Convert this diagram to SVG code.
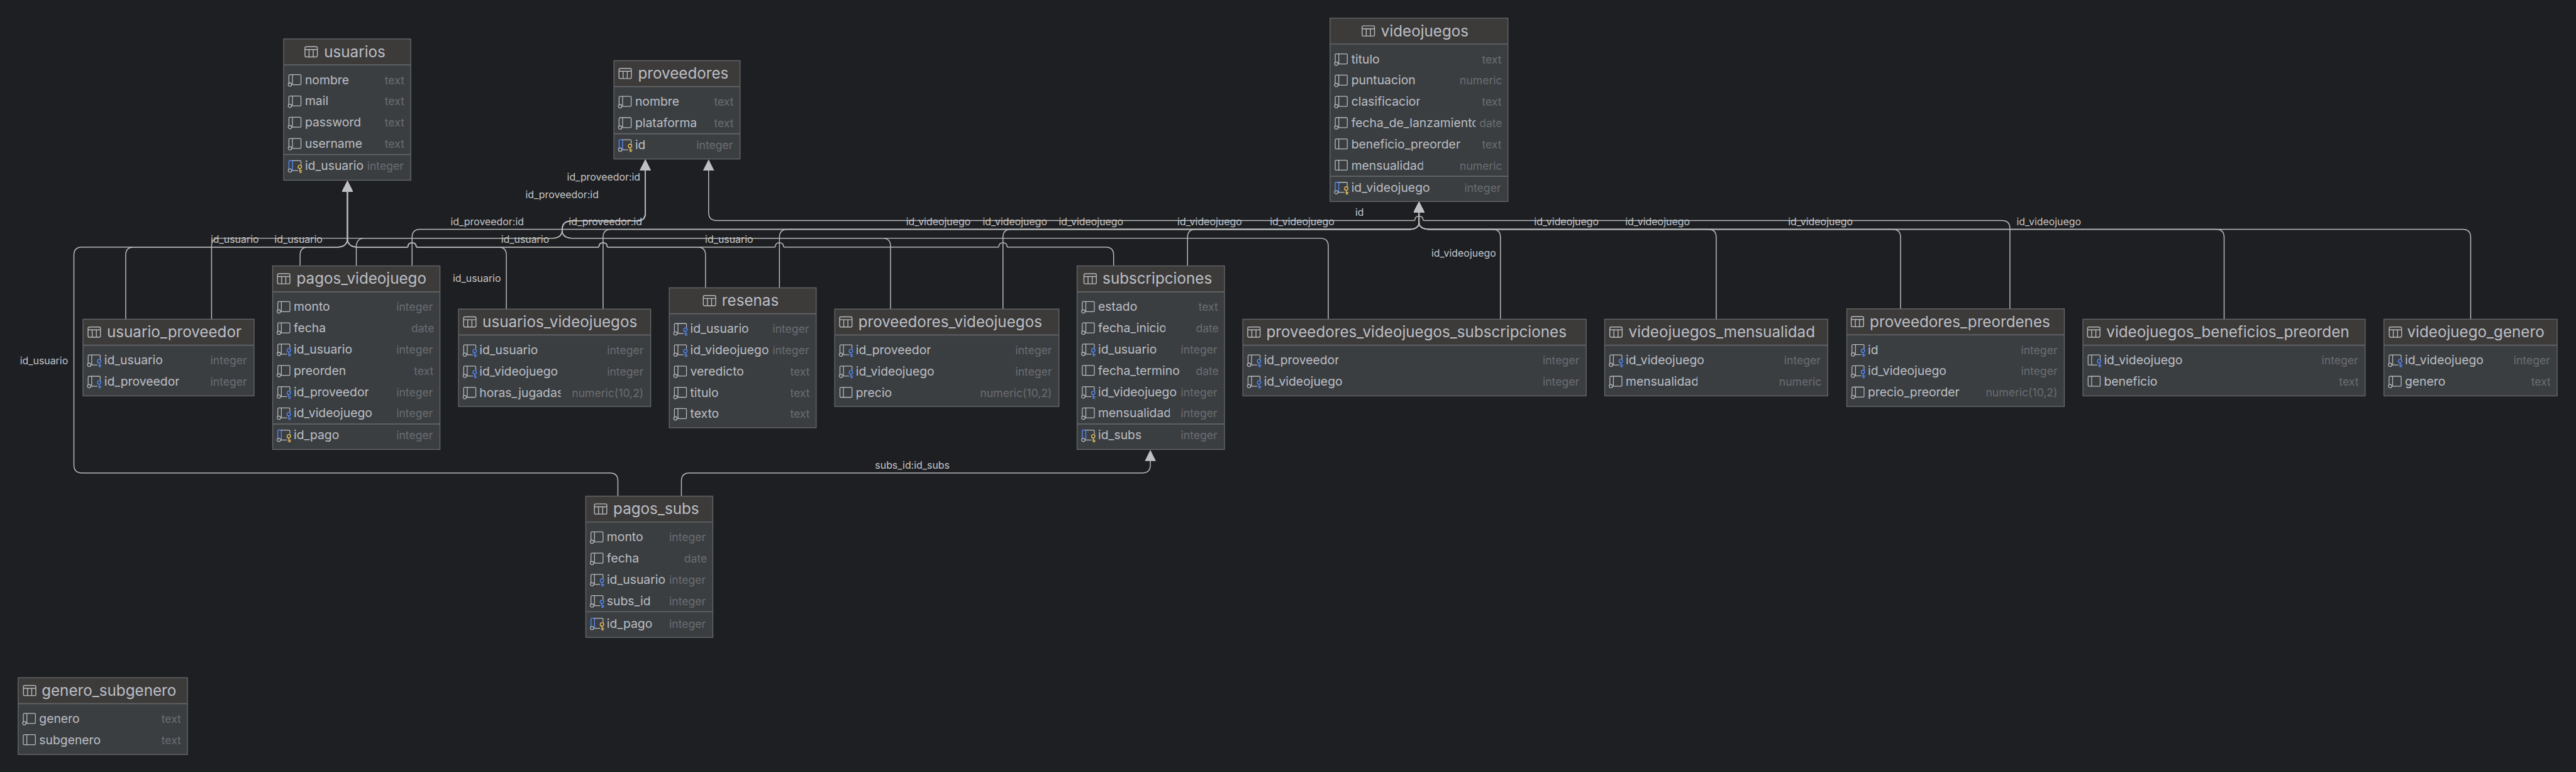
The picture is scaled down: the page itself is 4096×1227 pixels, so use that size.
<svg xmlns="http://www.w3.org/2000/svg" width="4096" height="1227" viewBox="0 0 4096 1227">
<style>
text{font-family:Inter,"Liberation Sans",sans-serif}
.b{fill:#3b3e41}
.h{fill:#3c3b3a}
.e{fill:none;stroke:#636568;stroke-width:2}
.d{stroke:#636568;stroke-width:2.4}
.t{font-size:34.4px;fill:#bcbec4}
.n{font-size:27.5px;fill:#bcbec4}
.y{font-size:25px;fill:#6a6d72;text-anchor:end}
.l{font-size:22.6px;fill:#c4c6ca}
.i{fill:none;stroke:#b8babe;stroke-width:1.8;stroke-linecap:round;stroke-linejoin:round}
.kb{fill:none;stroke:#548af7;stroke-width:1.9;stroke-linecap:round;stroke-linejoin:round}
.ky{fill:none;stroke:#f2c55c;stroke-width:1.9;stroke-linecap:round;stroke-linejoin:round}
.ic{fill:none;stroke:#b8babe;stroke-width:2;stroke-linejoin:round}
#conn path{fill:none;stroke:#b8babb;stroke-width:2.1;marker-end:none}
#conn path.a{marker-end:url(#ah)}
.v{clip-path:url(#cv)}
.p{clip-path:url(#cp)}
.f{clip-path:url(#cf)}
.o{clip-path:url(#co)}
.x{clip-path:url(#cx)}
.m{clip-path:url(#cm)}
.s{clip-path:url(#cs)}
.z{clip-path:url(#cz)}
.j{clip-path:url(#cj)}
.u{clip-path:url(#cu)}
</style>
<defs>
<marker id="ah" markerUnits="userSpaceOnUse" markerWidth="25" markerHeight="25" viewBox="0 0 25 25" refX="0" refY="12.5" orient="auto"><path d="M0 0L25 12.5L0 25Z" fill="#bfc0c1"/></marker>
<clipPath id="cv"><rect x="-2" y="-34" width="180" height="48"/></clipPath>
<clipPath id="cp"><rect x="-2" y="-34" width="171" height="48"/></clipPath>
<clipPath id="cf"><rect x="-2" y="-34" width="140" height="48"/></clipPath>
<clipPath id="co"><rect x="-2" y="-34" width="154" height="48"/></clipPath>
<clipPath id="cx"><rect x="-2" y="-34" width="186.500" height="48"/></clipPath>
<clipPath id="cm"><rect x="-2" y="-34" width="164" height="48"/></clipPath>
<clipPath id="cs"><rect x="-2" y="-34" width="157" height="48"/></clipPath>
<clipPath id="cz"><rect x="-2" y="-34" width="283" height="48"/></clipPath>
<clipPath id="cj"><rect x="-2" y="-34" width="186" height="48"/></clipPath>
<clipPath id="cu"><rect x="-2" y="-34" width="135" height="48"/></clipPath>
<g id="tb"><rect class="ic" x="0" y="-11.500" width="28" height="23" rx="3"/><path class="ic" d="M0-5H28M9.300-5V11.500M18.700-5V11.500"/></g>
<g id="c0"><path class="i" d="M1.700 6V-10.300a2 2 0 0 1 2-2H27a2 2 0 0 1 2 2V8.300a2 2 0 0 1-2 2H9.700M9.700-12.300V10.300"/><circle class="i" cx="4" cy="10" r="3.800"/></g>
<g id="c1"><path class="i" d="M3.700-12.300H27a2 2 0 0 1 2 2V8.300a2 2 0 0 1-2 2H3.700a2 2 0 0 1-2-2V-10.300a2 2 0 0 1 2-2ZM9.700-12.300V10.300"/></g>
<g id="f0"><path class="i" d="M1.700 6V-10.300a2 2 0 0 1 2-2H27a2 2 0 0 1 2 2V-4M22 10.300H9.700M9.700-12.300V10.300"/><circle class="i" cx="4" cy="10" r="3.800"/><circle class="kb" cx="26.500" cy="1.700" r="4"/><path class="kb" d="M26.500 5.700V14M26.500 10.500H31M26.500 14H30"/></g>
<g id="f1"><path class="i" d="M22 10.300H3.700a2 2 0 0 1-2-2V-10.300a2 2 0 0 1 2-2H27a2 2 0 0 1 2 2V-4M9.700-12.300V10.300"/><circle class="kb" cx="26.500" cy="1.700" r="4"/><path class="kb" d="M26.500 5.700V14M26.500 10.500H31M26.500 14H30"/></g>
<g id="pk"><path class="kb" d="M1.700 6V-10.300a2 2 0 0 1 2-2H9.700M9.700-12.300V10.300"/><path class="i" d="M9.700-12.300H27a2 2 0 0 1 2 2V-4M22 10.300H9.700"/><circle class="i" cx="4" cy="10" r="3.800"/><circle class="ky" cx="26.500" cy="1.700" r="4"/><path class="ky" d="M26.500 5.700V14M26.500 10.500H31M26.500 14H30"/></g>
</defs>
<rect width="4096" height="1227" fill="#1e1f22"/>
<g transform="scale(.70378)">
<g id="conn">
<path class="a" d="M1396 1120V1086Q1396 1068 1378 1068H185Q167 1068 167 1050V576Q167 558 185 558H765C776 557 785 552 785 538V433"/>
<path class="a" d="M284 721V576Q284 558 302 558H765C776 557 785 552 785 538V433"/>
<path class="a" d="M678 600V576Q678 558 696 558H765C776 557 785 552 785 538V433"/>
<path class="a" d="M1144 698V576Q1144 558 1126 558H942q-2 0-2-3A9 7 0 0 0 922 555q0 3-2 3H805C794 557 785 552 785 538V433"/>
<path class="a" d="M1594 650V576Q1594 558 1576 558H1373.500q-2 0-2-3A9 7 0 0 0 1353.500 555q0 3-2 3H942q-2 0-2-3A9 7 0 0 0 922 555q0 3-2 3H805C794 557 785 552 785 538V433"/>
<path class="a" d="M2516 600V576Q2516 558 2498 558H2277q-2 0-2-3A9 7 0 0 0 2257 555q0 3-2 3H1772q-2 0-2-3A9 7 0 0 0 1752 555q0 3-2 3H1373.500q-2 0-2-3A9 7 0 0 0 1353.500 555q0 3-2 3H942q-2 0-2-3A9 7 0 0 0 922 555q0 3-2 3H805C794 557 785 552 785 538V433"/>
<path class="a" d="M805 600V557Q805 538 824 538H1250C1262 537 1270 532 1270 520C1270 508 1274 499 1290 499H1440Q1458 499 1458 481V385"/>
<path class="a" d="M478 721V556Q478 538 496 538H1250C1262 537 1270 532 1270 520C1270 508 1274 499 1290 499H1440Q1458 499 1458 481V385"/>
<path class="a" d="M2012 698V556Q2012 538 1994 538H1291C1279 537 1270 532 1270 520C1270 508 1274 499 1290 499H1440Q1458 499 1458 481V385"/>
<path class="a" d="M3001 721V556Q3001 538 2983 538H1291C1279 537 1270 532 1270 520C1270 508 1274 499 1290 499H1440Q1458 499 1458 481V385"/>
<path class="a" d="M931 600V536Q931 518 949 518H3187C3198 517 3206 512 3206 502V480"/>
<path class="a" d="M1362.500 698V536Q1362.500 518 1380.500 518H3187C3198 517 3206 512 3206 502V480"/>
<path class="a" d="M1761 650V536Q1761 518 1779 518H3187C3198 517 3206 512 3206 502V480"/>
<path class="a" d="M2266 698V536Q2266 518 2284 518H3187C3198 517 3206 512 3206 502V480"/>
<path class="a" d="M2683 600V536Q2683 518 2701 518H3187C3198 517 3206 512 3206 502V480"/>
<path class="a" d="M3390 721V536Q3390 518 3372 518H3227C3214 517 3206 512 3206 502V480"/>
<path class="a" d="M3877.500 721V536Q3877.500 518 3859.500 518H3227C3214 517 3206 512 3206 502V480"/>
<path class="a" d="M4294 698V536Q4294 518 4276 518H3227C3214 517 3206 512 3206 502V480"/>
<path class="a" d="M5025 721V536Q5025 518 5007 518H3227C3214 517 3206 512 3206 502V480"/>
<path class="a" d="M5582 721V536Q5582 518 5564 518H3227C3214 517 3206 512 3206 502V480"/>
<path class="a" d="M4541 698V516Q4541 498 4523 498H3217q-2 0-2-3A9 7 0 0 0 3197 495q0 3-2 3H1619Q1601 498 1601 480V385"/>
<path class="a" d="M1539.500 1120V1086Q1539.500 1068 1557.500 1068H2581Q2599 1068 2599 1050V1041"/>
<text class="l" x="476" y="548">id_usuario</text>
<text class="l" x="620" y="548">id_usuario</text>
<text class="l" x="1132" y="548">id_usuario</text>
<text class="l" x="1593" y="548">id_usuario</text>
<text class="l" x="1023" y="637">id_usuario</text>
<text class="l" x="45" y="823">id_usuario</text>
<text class="l" x="1281" y="408">id_proveedor:id</text>
<text class="l" x="1187" y="448">id_proveedor:id</text>
<text class="l" x="1018" y="508">id_proveedor:id</text>
<text class="l" x="1285" y="508">id_proveedor:id</text>
<text class="l" x="2047" y="508">id_videojuego</text>
<text class="l" x="2220" y="508">id_videojuego</text>
<text class="l" x="2392" y="508">id_videojuego</text>
<text class="l" x="2660" y="508">id_videojuego</text>
<text class="l" x="2869" y="508">id_videojuego</text>
<text class="l" x="3062" y="488">id</text>
<text class="l" x="3234" y="580">id_videojuego</text>
<text class="l" x="3466" y="508">id_videojuego</text>
<text class="l" x="3672" y="508">id_videojuego</text>
<text class="l" x="4040" y="508">id_videojuego</text>
<text class="l" x="4556" y="508">id_videojuego</text>
<text class="l" x="1977" y="1058">subs_id:id_subs</text>
</g>
<g id="usuarios" transform="translate(641 88)">
<rect class="b" width="287" height="319"/><rect class="h" width="287" height="58"/><path class="d" d="M0 58.500H287M0 261H287"/><rect class="e" width="287" height="319"/>
<use href="#tb" x="48" y="29"/><text class="t" x="91" y="41">usuarios</text>
<use href="#c0" x="10" y="93"/><text class="n" x="48" y="102">nombre</text><text class="y" x="272.500" y="102">text</text>
<use href="#c0" x="10" y="141"/><text class="n" x="48" y="150">mail</text><text class="y" x="272.500" y="150">text</text>
<use href="#c0" x="10" y="189"/><text class="n" x="48" y="198">password</text><text class="y" x="272.500" y="198">text</text>
<use href="#c0" x="10" y="237"/><text class="n" x="48" y="246">username</text><text class="y" x="272.500" y="246">text</text>
<use href="#pk" x="10" y="287"/><text class="n u" transform="translate(48 296)">id_usuario</text><text class="y" x="271" y="296">integer</text>
</g>
<g id="proveedores" transform="translate(1387 137)">
<rect class="b" width="285" height="222"/><rect class="h" width="285" height="58"/><path class="d" d="M0 58.500H285M0 165H285"/><rect class="e" width="285" height="222"/>
<use href="#tb" x="11.500" y="29"/><text class="t" x="54.500" y="41">proveedores</text>
<use href="#c0" x="10" y="93"/><text class="n" x="48" y="102">nombre</text><text class="y" x="270.500" y="102">text</text>
<use href="#c0" x="10" y="141"/><text class="n f" transform="translate(48 150)">plataforma</text><text class="y" x="270.500" y="150">text</text>
<use href="#pk" x="10" y="191"/><text class="n" x="48" y="200">id</text><text class="y" x="269" y="200">integer</text>
</g>
<g id="videojuegos" transform="translate(3005 41)">
<rect class="b" width="402" height="414"/><rect class="h" width="402" height="58"/><path class="d" d="M0 58.500H402M0 357H402"/><rect class="e" width="402" height="414"/>
<use href="#tb" x="72.500" y="29"/><text class="t" x="115" y="41">videojuegos</text>
<use href="#c0" x="10" y="93"/><text class="n" x="48" y="102">titulo</text><text class="y" x="387.500" y="102">text</text>
<use href="#c0" x="10" y="141"/><text class="n" x="48" y="150">puntuacion</text><text class="y" x="389" y="150">numeric</text>
<use href="#c0" x="10" y="189"/><text class="n s" transform="translate(48 198)">clasificacion</text><text class="y" x="387.500" y="198">text</text>
<use href="#c0" x="10" y="237"/><text class="n z" transform="translate(48 246)">fecha_de_lanzamiento</text><text class="y" x="389" y="246">date</text>
<use href="#c1" x="10" y="285"/><text class="n" x="48" y="294">beneficio_preorder</text><text class="y" x="387.500" y="294">text</text>
<use href="#c1" x="10" y="333"/><text class="n m" transform="translate(48 342)">mensualidad</text><text class="y" x="389" y="342">numeric</text>
<use href="#pk" x="10" y="383"/><text class="n v" transform="translate(48 392)">id_videojuego</text><text class="y" x="386" y="392">integer</text>
</g>
<g id="usuario_proveedor" transform="translate(187.500 721)">
<rect class="b" width="386.500" height="173"/><rect class="h" width="386.500" height="58"/><path class="d" d="M0 58.500H386.500"/><rect class="e" width="386.500" height="173"/>
<use href="#tb" x="11.500" y="29"/><text class="t" x="54" y="41">usuario_proveedor</text>
<use href="#f0" x="10" y="93"/><text class="n u" transform="translate(48 102)">id_usuario</text><text class="y" x="370.500" y="102">integer</text>
<use href="#f0" x="10" y="141"/><text class="n p" transform="translate(48 150)">id_proveedor</text><text class="y" x="370.500" y="150">integer</text>
</g>
<g id="pagos_videojuego" transform="translate(616 600.500)">
<rect class="b" width="378" height="414.500"/><rect class="h" width="378" height="58"/><path class="d" d="M0 58.500H378M0 357H378"/><rect class="e" width="378" height="414.500"/>
<use href="#tb" x="11" y="29"/><text class="t" x="54" y="41">pagos_videojuego</text>
<use href="#c0" x="10" y="93"/><text class="n" x="47.500" y="102">monto</text><text class="y" x="362" y="102">integer</text>
<use href="#c0" x="10" y="141"/><text class="n" x="47.500" y="150">fecha</text><text class="y" x="365" y="150">date</text>
<use href="#f0" x="10" y="189"/><text class="n u" transform="translate(47.500 198)">id_usuario</text><text class="y" x="362" y="198">integer</text>
<use href="#c0" x="10" y="237"/><text class="n" x="47.500" y="246">preorden</text><text class="y" x="363.500" y="246">text</text>
<use href="#f0" x="10" y="285"/><text class="n p" transform="translate(47.500 294)">id_proveedor</text><text class="y" x="362" y="294">integer</text>
<use href="#f0" x="10" y="333"/><text class="n v" transform="translate(47.500 342)">id_videojuego</text><text class="y" x="362" y="342">integer</text>
<use href="#pk" x="10" y="383"/><text class="n" x="47.500" y="392">id_pago</text><text class="y" x="362" y="392">integer</text>
</g>
<g id="usuarios_videojuegos" transform="translate(1036 698)">
<rect class="b" width="434" height="220"/><rect class="h" width="434" height="58"/><path class="d" d="M0 58.500H434"/><rect class="e" width="434" height="220"/>
<use href="#tb" x="11.500" y="29"/><text class="t" x="54" y="41">usuarios_videojuegos</text>
<use href="#f0" x="10" y="93"/><text class="n u" transform="translate(47 102)">id_usuario</text><text class="y" x="418" y="102">integer</text>
<use href="#f0" x="10" y="141"/><text class="n v" transform="translate(47 150)">id_videojuego</text><text class="y" x="418" y="150">integer</text>
<use href="#c0" x="10" y="189"/><text class="n j" transform="translate(47 198)">horas_jugadas</text><text class="y" x="418" y="198">numeric(10,2)</text>
</g>
<g id="resenas" transform="translate(1512 650)">
<rect class="b" width="332" height="316"/><rect class="h" width="332" height="58"/><path class="d" d="M0 58.500H332"/><rect class="e" width="332" height="316"/>
<use href="#tb" x="77" y="29"/><text class="t" x="119" y="41">resenas</text>
<use href="#f0" x="10" y="93"/><text class="n u" transform="translate(47.500 102)">id_usuario</text><text class="y" x="316" y="102">integer</text>
<use href="#f0" x="10" y="141"/><text class="n v" transform="translate(47.500 150)">id_videojuego</text><text class="y" x="316" y="150">integer</text>
<use href="#c0" x="10" y="189"/><text class="n" x="47.500" y="198">veredicto</text><text class="y" x="317.500" y="198">text</text>
<use href="#c0" x="10" y="237"/><text class="n" x="47.500" y="246">titulo</text><text class="y" x="317.500" y="246">text</text>
<use href="#c0" x="10" y="285"/><text class="n" x="47.500" y="294">texto</text><text class="y" x="317.500" y="294">text</text>
</g>
<g id="proveedores_videojuegos" transform="translate(1886 698)">
<rect class="b" width="506.500" height="220"/><rect class="h" width="506.500" height="58"/><path class="d" d="M0 58.500H506.500"/><rect class="e" width="506.500" height="220"/>
<use href="#tb" x="11" y="29"/><text class="t" x="53" y="41">proveedores_videojuegos</text>
<use href="#f0" x="10" y="93"/><text class="n p" transform="translate(47.500 102)">id_proveedor</text><text class="y" x="490.500" y="102">integer</text>
<use href="#f0" x="10" y="141"/><text class="n v" transform="translate(47.500 150)">id_videojuego</text><text class="y" x="490.500" y="150">integer</text>
<use href="#c1" x="10" y="189"/><text class="n" x="47.500" y="198">precio</text><text class="y" x="490.500" y="198">numeric(10,2)</text>
</g>
<g id="subscripciones" transform="translate(2433.500 600.500)">
<rect class="b" width="333" height="414.500"/><rect class="h" width="333" height="58"/><path class="d" d="M0 58.500H333M0 357H333"/><rect class="e" width="333" height="414.500"/>
<use href="#tb" x="15.500" y="29"/><text class="t" x="57.500" y="41">subscripciones</text>
<use href="#c0" x="10" y="93"/><text class="n" x="47.500" y="102">estado</text><text class="y" x="318.500" y="102">text</text>
<use href="#c0" x="10" y="141"/><text class="n o" transform="translate(47.500 150)">fecha_inicio</text><text class="y" x="320" y="150">date</text>
<use href="#f0" x="10" y="189"/><text class="n u" transform="translate(47.500 198)">id_usuario</text><text class="y" x="317" y="198">integer</text>
<use href="#c1" x="10" y="237"/><text class="n x" transform="translate(47.500 246)">fecha_termino</text><text class="y" x="320" y="246">date</text>
<use href="#f0" x="10" y="285"/><text class="n v" transform="translate(47.500 294)">id_videojuego</text><text class="y" x="317" y="294">integer</text>
<use href="#c0" x="10" y="333"/><text class="n m" transform="translate(47.500 342)">mensualidad</text><text class="y" x="317" y="342">integer</text>
<use href="#pk" x="10" y="383"/><text class="n" x="47.500" y="392">id_subs</text><text class="y" x="317" y="392">integer</text>
</g>
<g id="proveedores_videojuegos_subscripciones" transform="translate(2808 721)">
<rect class="b" width="775.700" height="173"/><rect class="h" width="775.700" height="58"/><path class="d" d="M0 58.500H775.700"/><rect class="e" width="775.700" height="173"/>
<use href="#tb" x="11" y="29"/><text class="t" x="53" y="41">proveedores_videojuegos_subscripciones</text>
<use href="#f0" x="10" y="93"/><text class="n p" transform="translate(47.500 102)">id_proveedor</text><text class="y" x="760" y="102">integer</text>
<use href="#f0" x="10" y="141"/><text class="n v" transform="translate(47.500 150)">id_videojuego</text><text class="y" x="760" y="150">integer</text>
</g>
<g id="videojuegos_mensualidad" transform="translate(3625.500 721)">
<rect class="b" width="504" height="173"/><rect class="h" width="504" height="58"/><path class="d" d="M0 58.500H504"/><rect class="e" width="504" height="173"/>
<use href="#tb" x="11.500" y="29"/><text class="t" x="54" y="41">videojuegos_mensualidad</text>
<use href="#f0" x="10" y="93"/><text class="n v" transform="translate(47.500 102)">id_videojuego</text><text class="y" x="488" y="102">integer</text>
<use href="#c0" x="10" y="141"/><text class="n m" transform="translate(47.500 150)">mensualidad</text><text class="y" x="490" y="150">numeric</text>
</g>
<g id="proveedores_preordenes" transform="translate(4172.500 697.500)">
<rect class="b" width="491.500" height="220.500"/><rect class="h" width="491.500" height="58"/><path class="d" d="M0 58.500H491.500"/><rect class="e" width="491.500" height="220.500"/>
<use href="#tb" x="10" y="29"/><text class="t" x="52" y="41">proveedores_preordenes</text>
<use href="#f0" x="10" y="93"/><text class="n" x="47.500" y="102">id</text><text class="y" x="476" y="102">integer</text>
<use href="#f0" x="10" y="141"/><text class="n v" transform="translate(47.500 150)">id_videojuego</text><text class="y" x="476" y="150">integer</text>
<use href="#c0" x="10" y="189"/><text class="n" x="47.500" y="198">precio_preorder</text><text class="y" x="476" y="198">numeric(10,2)</text>
</g>
<g id="videojuegos_beneficios_preorden" transform="translate(4706 721)">
<rect class="b" width="637.600" height="173"/><rect class="h" width="637.600" height="58"/><path class="d" d="M0 58.500H637.600"/><rect class="e" width="637.600" height="173"/>
<use href="#tb" x="10.500" y="29"/><text class="t" x="53" y="41">videojuegos_beneficios_preorden</text>
<use href="#f1" x="10" y="93"/><text class="n v" transform="translate(47.500 102)">id_videojuego</text><text class="y" x="622" y="102">integer</text>
<use href="#c1" x="10" y="141"/><text class="n" x="47.500" y="150">beneficio</text><text class="y" x="623" y="150">text</text>
</g>
<g id="videojuego_genero" transform="translate(5386 721)">
<rect class="b" width="391.500" height="173"/><rect class="h" width="391.500" height="58"/><path class="d" d="M0 58.500H391.500"/><rect class="e" width="391.500" height="173"/>
<use href="#tb" x="12" y="29"/><text class="t" x="52.500" y="41">videojuego_genero</text>
<use href="#f0" x="10" y="93"/><text class="n v" transform="translate(47.500 102)">id_videojuego</text><text class="y" x="375.500" y="102">integer</text>
<use href="#c0" x="10" y="141"/><text class="n" x="47.500" y="150">genero</text><text class="y" x="377" y="150">text</text>
</g>
<g id="pagos_subs" transform="translate(1323.500 1120.500)">
<rect class="b" width="287" height="319"/><rect class="h" width="287" height="58"/><path class="d" d="M0 58.500H287M0 261H287"/><rect class="e" width="287" height="319"/>
<use href="#tb" x="19.500" y="29"/><text class="t" x="62" y="41">pagos_subs</text>
<use href="#c0" x="10" y="93"/><text class="n" x="47.500" y="102">monto</text><text class="y" x="271" y="102">integer</text>
<use href="#c0" x="10" y="141"/><text class="n" x="47.500" y="150">fecha</text><text class="y" x="274" y="150">date</text>
<use href="#f0" x="10" y="189"/><text class="n u" transform="translate(47.500 198)">id_usuario</text><text class="y" x="271" y="198">integer</text>
<use href="#f0" x="10" y="237"/><text class="n" x="47.500" y="246">subs_id</text><text class="y" x="271" y="246">integer</text>
<use href="#pk" x="10" y="288"/><text class="n" x="47.500" y="297">id_pago</text><text class="y" x="271" y="297">integer</text>
</g>
<g id="genero_subgenero" transform="translate(41 1530.500)">
<rect class="b" width="382.600" height="173.500"/><rect class="h" width="382.600" height="58"/><path class="d" d="M0 58.500H382.600"/><rect class="e" width="382.600" height="173.500"/>
<use href="#tb" x="12" y="29"/><text class="t" x="53" y="41">genero_subgenero</text>
<use href="#c0" x="10" y="93"/><text class="n" x="47.500" y="102">genero</text><text class="y" x="368" y="102">text</text>
<use href="#c1" x="10" y="141"/><text class="n" x="47.500" y="150">subgenero</text><text class="y" x="368" y="150">text</text>
</g>
</g>
</svg>
